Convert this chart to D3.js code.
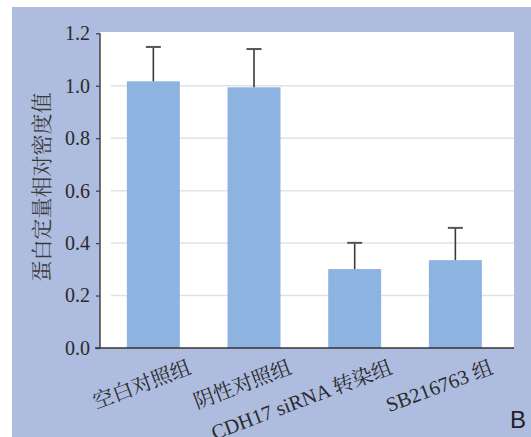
<!DOCTYPE html>
<html>
<head>
<meta charset="utf-8">
<script src="https://cdn.jsdelivr.net/npm/d3@7"></script>
<style>
  html, body { margin: 0; padding: 0; background: #ffffff; }
  svg { display: block; }
</style>
</head>
<body>
<svg id="chart" width="531" height="437"></svg>
<script>
// Group names, mean relative density and the upper error value of each group
const categories = ["空白对照组", "阴性对照组", "CDH17 siRNA 转染组", "SB216763 组"];
const means = [1.017, 0.994, 0.301, 0.335];
const errors = [0.131, 0.146, 0.100, 0.123];
const yTicks = [0.0, 0.2, 0.4, 0.6, 0.8, 1.0, 1.2];
const yTitle = "蛋白定量相对密度值";
const panelLetter = "B";

const svg = d3.select("#chart");
const W = 531, H = 437;

// Panel background
svg.append("rect")
  .attr("x", 12).attr("y", 7)
  .attr("width", W - 12).attr("height", H - 7)
  .attr("fill", "#aebcdf");

const plot = { left: 100, right: 514, top: 32, bottom: 348 };

// White plotting area
svg.append("rect")
  .attr("x", plot.left).attr("y", plot.top)
  .attr("width", plot.right - plot.left).attr("height", plot.bottom - plot.top)
  .attr("fill", "#ffffff");

const y = d3.scaleLinear().domain([0, 1.2]).range([348, 33.3]);
const x = d3.scaleBand().domain(categories).range([103, 505.7]).paddingInner(0.474).paddingOuter(0.237);

// Horizontal gridlines
svg.append("g")
  .selectAll("line")
  .data(yTicks.filter(t => t > 0 && t < 1.2))
  .join("line")
  .attr("x1", 111).attr("x2", plot.right)
  .attr("y1", d => y(d)).attr("y2", d => y(d))
  .attr("stroke", "#e2e2e2").attr("stroke-width", 1.5);

// Bars
svg.append("g")
  .selectAll("rect")
  .data(categories)
  .join("rect")
  .attr("x", d => x(d))
  .attr("width", x.bandwidth())
  .attr("y", (d, i) => y(means[i]))
  .attr("height", (d, i) => y(0) - y(means[i]))
  .attr("fill", "#8db3e1");

// Error bars (upper only)
const eb = svg.append("g");
categories.forEach((c, i) => {
  const cx = x(c) + x.bandwidth() / 2;
  eb.append("line")
    .attr("x1", cx).attr("x2", cx)
    .attr("y1", y(means[i])).attr("y2", y(means[i] + errors[i]))
    .attr("stroke", "#3a3a3a").attr("stroke-width", 1.6);
  eb.append("line")
    .attr("x1", cx - 7.5).attr("x2", cx + 7.5)
    .attr("y1", y(means[i] + errors[i])).attr("y2", y(means[i] + errors[i]))
    .attr("stroke", "#555555").attr("stroke-width", 2);
});

// Y axis
const yAxis = d3.axisLeft(y)
  .tickValues(yTicks)
  .tickFormat(d3.format(".1f"))
  .tickSize(4)
  .tickPadding(6);
const gy = svg.append("g").attr("transform", `translate(${plot.left},0)`).call(yAxis);
gy.attr("font-family", null).attr("font-size", null);
gy.select(".domain").attr("stroke", "#444").attr("stroke-width", 1.5)
  .attr("d", `M0,${y(1.2)}V${y(0)}`);
gy.selectAll(".tick line").attr("stroke", "#444").attr("stroke-width", 1.3);
gy.selectAll(".tick text")
  .attr("fill", "#2a2a2a")
  .style("font-family", "'Liberation Serif', 'DejaVu Serif', serif")
  .style("font-size", "20px");

// X axis line
svg.append("line")
  .attr("x1", 95).attr("x2", plot.right)
  .attr("y1", y(0)).attr("y2", y(0))
  .attr("stroke", "#333").attr("stroke-width", 1.6);

// Rotated category labels
svg.append("g")
  .selectAll("text")
  .data(categories)
  .join("text")
  .attr("transform", d => `translate(${x(d) + x.bandwidth() / 2 + 39},373) rotate(-20.5)`)
  .attr("text-anchor", "end")
  .attr("fill", "#2a2a2a")
  .style("font-family", "'Liberation Serif', 'Noto Serif CJK SC', 'Noto Sans CJK SC', serif")
  .style("font-size", "20.5px")
  .text(d => d);

// Y axis title
svg.append("text")
  .attr("transform", "translate(49,187) rotate(-90)")
  .attr("text-anchor", "middle")
  .attr("fill", "#3a3a3a")
  .style("font-family", "'Noto Serif CJK SC', 'Noto Sans CJK SC', serif")
  .style("font-size", "21px")
  .text(yTitle);

// Panel letter
svg.append("text")
  .attr("x", 510).attr("y", 428)
  .attr("fill", "#222")
  .style("font-family", "'Liberation Sans', Arial, sans-serif")
  .style("font-size", "24px")
  .text(panelLetter);
</script>
</body>
</html>
